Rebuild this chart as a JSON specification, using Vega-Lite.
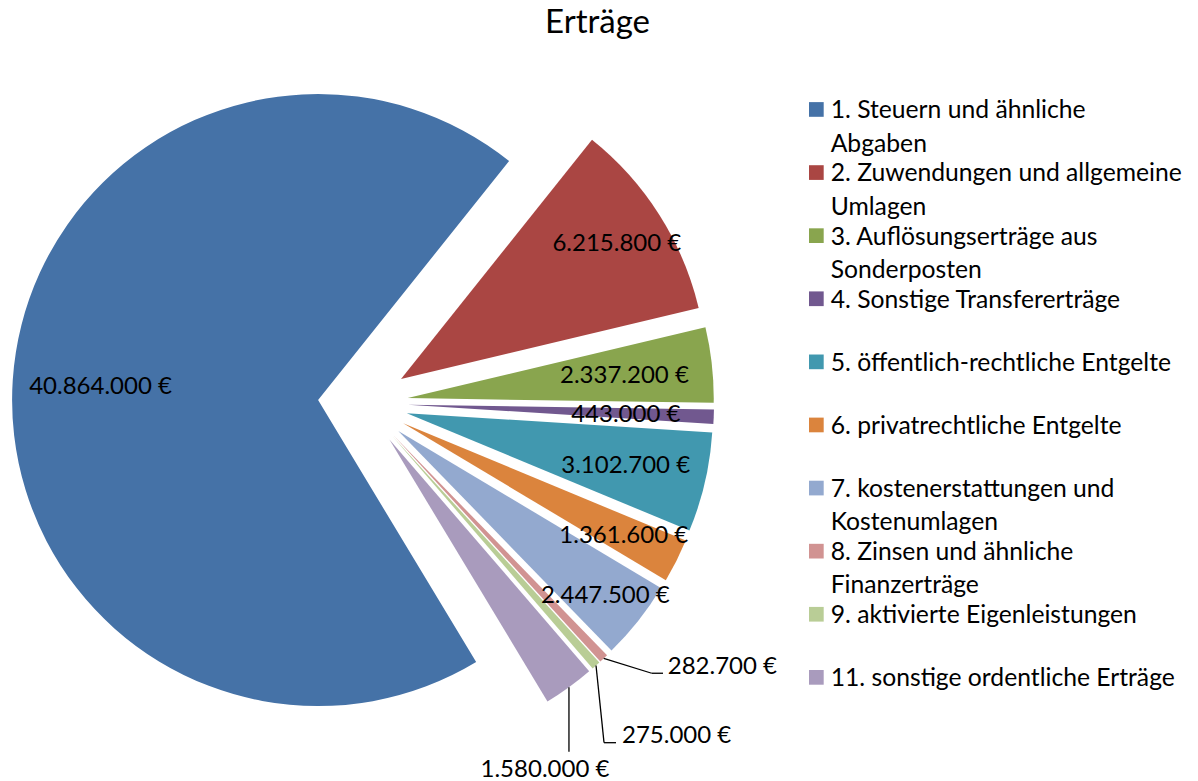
{
  "$schema": "https://vega.github.io/schema/vega-lite/v6.json",
  "width": 716,
  "height": 714,
  "autosize": {"type": "none"},
  "padding": {"left": 5, "top": 46, "right": 477, "bottom": 21},
  "title": {"text": "Erträge", "fontSize": 33, "font": "Lato", "fontWeight": "normal", "color": "#000000", "anchor": "middle", "frame": "bounds", "offset": 6, "dx": 4},
  "config": {
    "font": "Lato",
    "view": {"stroke": null},
    "locale": {"number": {"decimal": ",", "thousands": ".", "grouping": [3], "currency": ["", " €"]}},
    "style": {"guide-label": {"lineHeight": 33.4}}
  },
  "data": {
    "values": [
      {"nr": 1, "kategorie": "1. Steuern und ähnliche Abgaben", "wert": 40864000},
      {"nr": 2, "kategorie": "2. Zuwendungen und allgemeine Umlagen", "wert": 6215800},
      {"nr": 3, "kategorie": "3. Auflösungserträge aus Sonderposten", "wert": 2337200},
      {"nr": 4, "kategorie": "4. Sonstige Transfererträge", "wert": 443000},
      {"nr": 5, "kategorie": "5. öffentlich-rechtliche Entgelte", "wert": 3102700},
      {"nr": 6, "kategorie": "6. privatrechtliche Entgelte", "wert": 1361600},
      {"nr": 7, "kategorie": "7. kostenerstattungen und Kostenumlagen", "wert": 2447500},
      {"nr": 8, "kategorie": "8. Zinsen und ähnliche Finanzerträge", "wert": 282700},
      {"nr": 9, "kategorie": "9. aktivierte Eigenleistungen", "wert": 275000},
      {"nr": 11, "kategorie": "11. sonstige ordentliche Erträge", "wert": 1580000}
    ]
  },
  "transform": [
    {"stack": "wert", "groupby": [], "sort": [{"field": "nr", "order": "ascending"}], "as": ["s0", "s1"]}
  ],
  "layer": [
    {
      "mark": {
        "type": "arc",
        "outerRadius": 306,
        "x": {"expr": "width/2+45*sin(scale('theta',(datum.s0+datum.s1)/2))"},
        "y": {"expr": "height/2-45*cos(scale('theta',(datum.s0+datum.s1)/2))"}
      },
      "encoding": {
        "theta": {"field": "s1", "type": "quantitative", "stack": null, "scale": {"nice": false, "zero": true, "range": [2.59879, 8.88197]}},
        "theta2": {"field": "s0"},
        "color": {
          "field": "kategorie",
          "type": "nominal",
          "scale": {
            "domain": ["1. Steuern und ähnliche Abgaben", "2. Zuwendungen und allgemeine Umlagen", "3. Auflösungserträge aus Sonderposten", "4. Sonstige Transfererträge", "5. öffentlich-rechtliche Entgelte", "6. privatrechtliche Entgelte", "7. kostenerstattungen und Kostenumlagen", "8. Zinsen und ähnliche Finanzerträge", "9. aktivierte Eigenleistungen", "11. sonstige ordentliche Erträge"],
            "range": ["#4572A7", "#AA4643", "#89A54E", "#71588F", "#4198AF", "#DB843D", "#93A9CF", "#D19392", "#B9CD96", "#A99BBD"]
          },
          "legend": {
            "orient": "none",
            "legendX": 799,
            "legendY": 60,
            "title": null,
            "symbolType": "M-1,-2.21H1V-0.21H-1Z",
            "symbolSize": 216,
            "symbolStrokeWidth": 0,
            "labelFont": "Lato",
            "labelFontSize": 24.7,
            "labelColor": "#000000",
            "labelOffset": 2,
            "labelLimit": 500,
            "labelBaseline": "alphabetic",
            "rowPadding": 4.1,
            "labelExpr": "({'1. Steuern und ähnliche Abgaben':['1. Steuern und ähnliche','Abgaben'],'2. Zuwendungen und allgemeine Umlagen':['2. Zuwendungen und allgemeine','Umlagen'],'3. Auflösungserträge aus Sonderposten':['3. Auflösungserträge aus','Sonderposten'],'7. kostenerstattungen und Kostenumlagen':['7. kostenerstattungen und','Kostenumlagen'],'8. Zinsen und ähnliche Finanzerträge':['8. Zinsen und ähnliche','Finanzerträge']})[datum.label]||[datum.label,' ']"
          }
        }
      }
    },
    {
      "transform": [{"filter": "datum.nr <= 7"}],
      "mark": {
        "type": "text",
        "fontSize": 24,
        "font": "Lato",
        "color": "#000000",
        "align": "center",
        "baseline": "middle",
        "dy": 1.5,
        "x": {"expr": "width/2+(263+100*max(0,abs(cos(scale('theta',(datum.s0+datum.s1)/2)))-0.16))*sin(scale('theta',(datum.s0+datum.s1)/2))"},
        "y": {"expr": "height/2-(263+100*max(0,abs(cos(scale('theta',(datum.s0+datum.s1)/2)))-0.16))*cos(scale('theta',(datum.s0+datum.s1)/2))"}
      },
      "encoding": {"text": {"field": "wert", "type": "quantitative", "format": "$,.0f"}}
    },
    {
      "transform": [{"filter": "datum.nr >= 8"}],
      "mark": {
        "type": "text",
        "fontSize": 24,
        "font": "Lato",
        "color": "#000000",
        "align": {"expr": "datum.nr==11?'center':'left'"},
        "baseline": "middle",
        "dy": 1.5,
        "x": {"expr": "width/2+351*sin(scale('theta',(datum.s0+datum.s1)/2))+(datum.nr==8?64:datum.nr==9?26:-24)"},
        "y": {"expr": "height/2-351*cos(scale('theta',(datum.s0+datum.s1)/2))+(datum.nr==8?7.3:datum.nr==9?69:81.5)"}
      },
      "encoding": {"text": {"field": "wert", "type": "quantitative", "format": "$,.0f"}}
    },
    {
      "transform": [{"filter": "datum.nr >= 8"}],
      "mark": {"type": "rule", "color": "#000000", "strokeWidth": 1.3},
      "encoding": {
        "x": {"value": {"expr": "width/2+351*sin(scale('theta',(datum.s0+datum.s1)/2))"}},
        "y": {"value": {"expr": "height/2-351*cos(scale('theta',(datum.s0+datum.s1)/2))"}},
        "x2": {"value": {"expr": "width/2+351*sin(scale('theta',(datum.s0+datum.s1)/2))+(datum.nr==8?48:datum.nr==9?8:0)"}},
        "y2": {"value": {"expr": "height/2-351*cos(scale('theta',(datum.s0+datum.s1)/2))+(datum.nr==8?14.8:datum.nr==9?77.2:64.5)"}}
      }
    },
    {
      "transform": [{"filter": "datum.nr == 8 || datum.nr == 9"}],
      "mark": {"type": "rule", "color": "#000000", "strokeWidth": 1.3},
      "encoding": {
        "x": {"value": {"expr": "width/2+351*sin(scale('theta',(datum.s0+datum.s1)/2))+(datum.nr==8?48:8)"}},
        "y": {"value": {"expr": "height/2-351*cos(scale('theta',(datum.s0+datum.s1)/2))+(datum.nr==8?14.8:77.2)"}},
        "x2": {"value": {"expr": "width/2+351*sin(scale('theta',(datum.s0+datum.s1)/2))+(datum.nr==8?59.3:20)"}},
        "y2": {"value": {"expr": "height/2-351*cos(scale('theta',(datum.s0+datum.s1)/2))+(datum.nr==8?14.8:77.2)"}}
      }
    }
  ]
}
